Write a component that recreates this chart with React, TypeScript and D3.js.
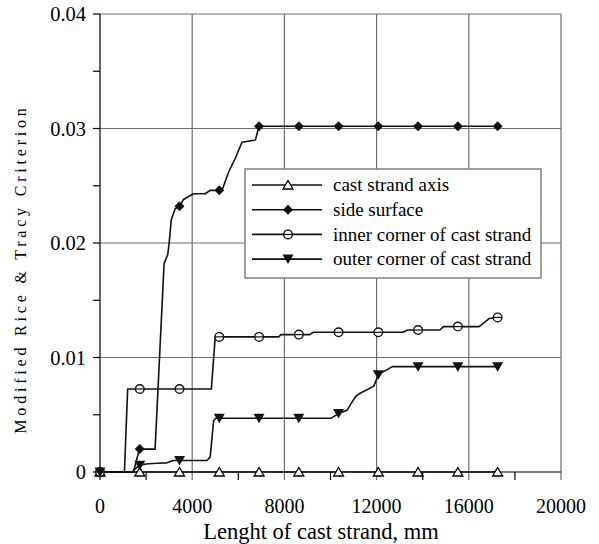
import React from "react";
import * as d3 from "d3";

// marker positions along the strand (mm)
const markerX = [0, 1725, 3450, 5175, 6900, 8625, 10350, 12075, 13800, 15525, 17250];

// marker values per series
const axisMarks = [0, 0, 0, 0, 0, 0, 0, 0, 0, 0, 0];
const sideMarks = [0, 0.002, 0.0232, 0.0246, 0.0302, 0.0302, 0.0302, 0.0302, 0.0302, 0.0302, 0.0302];
const innerMarks = [0, 0.00725, 0.00725, 0.0118, 0.0118, 0.012, 0.0122, 0.0122, 0.0124, 0.0127, 0.0135];
const outerMarks = [0, 0.0006, 0.001, 0.0047, 0.0047, 0.0047, 0.0051, 0.0085, 0.0092, 0.0092, 0.0092];

// line traces [x, value]
const axisLine: [number, number][] = [[0, 0], [17250, 0]];
const sideLine: [number, number][] = [
  [0, 0], [1450, 0], [1710, 0.002], [2390, 0.002], [2780, 0.0182], [2940, 0.019],
  [3000, 0.02], [3090, 0.022], [3260, 0.023], [3450, 0.0232], [3620, 0.0238],
  [4060, 0.0243], [4560, 0.0243], [4780, 0.0246], [5175, 0.0246], [5330, 0.0248],
  [5580, 0.0262], [5870, 0.0274], [6160, 0.0288], [6740, 0.029], [6900, 0.0302],
  [17250, 0.0302],
];
const innerLine: [number, number][] = [
  [0, 0], [1060, 0], [1200, 0.00725], [4830, 0.00725], [5000, 0.0118], [7750, 0.0118],
  [7850, 0.012], [9100, 0.012], [9250, 0.0122], [13150, 0.0122], [13350, 0.0124],
  [14750, 0.0124], [14900, 0.0127], [16450, 0.0127], [16880, 0.0134], [17250, 0.0135],
];
const outerLine: [number, number][] = [
  [0, 0], [1380, 0], [1710, 0.0006], [2000, 0.0007], [2460, 0.00076], [2900, 0.0008],
  [3190, 0.001], [4640, 0.001], [4780, 0.0013], [4930, 0.0045], [5030, 0.0047],
  [10030, 0.0047], [10350, 0.0051], [10720, 0.0054], [11090, 0.0066], [11300, 0.0069],
  [11600, 0.0072], [11880, 0.0075], [12075, 0.0085], [12680, 0.0092], [17250, 0.0092],
];

const legendLabels = [
  "cast strand axis",
  "side surface",
  "inner corner of cast strand",
  "outer corner of cast strand",
];

const xTicks = [0, 4000, 8000, 12000, 16000, 20000];
const xMinor = [2000, 6000, 10000, 14000, 18000];
const yTicks = [0, 0.01, 0.02, 0.03, 0.04];
const yMinor = [0.005, 0.015, 0.025, 0.035];

const FONT = "Liberation Serif, Times New Roman, DejaVu Serif, Noto Serif, serif";
const GRID = "#6e6e6e";
const txt = { fontFamily: FONT };

const Marker = ({ kind, x, y }: { kind: string; x: number; y: number }) => {
  if (kind === "tri")
    return (
      <path
        d={`M${x},${y - 4.5}L${x + 5},${y + 4}L${x - 5},${y + 4}Z`}
        fill="#fff"
        stroke="#000"
        strokeWidth={1.3}
      />
    );
  if (kind === "diamond")
    return <path d={`M${x},${y - 5}L${x + 5},${y}L${x},${y + 5}L${x - 5},${y}Z`} fill="#111" />;
  if (kind === "circle")
    return (
      <g>
        <circle cx={x} cy={y} r={4.3} fill="#fff" stroke="#111" strokeWidth={1.4} />
        <line x1={x - 4} x2={x + 4} y1={y} y2={y} stroke="#111" strokeWidth={1.2} />
      </g>
    );
  return <path d={`M${x - 5.5},${y - 4.5}L${x + 5.5},${y - 4.5}L${x},${y + 5}Z`} fill="#111" />;
};

export default function App() {
  const x = d3.scaleLinear().domain([0, 20000]).range([100, 561]);
  const y = d3.scaleLinear().domain([0, 0.04]).range([472, 14]);
  const line = d3
    .line<[number, number]>()
    .x(d => x(d[0]))
    .y(d => y(d[1]));

  const series = [
    { kind: "tri", line: axisLine, marks: axisMarks },
    { kind: "diamond", line: sideLine, marks: sideMarks },
    { kind: "circle", line: innerLine, marks: innerMarks },
    { kind: "down", line: outerLine, marks: outerMarks },
  ];

  return (
    <svg
      width={599}
      height={544}
      style={{ position: "absolute", left: 0, top: 0, background: "#fff" }}
    >
      <rect width={599} height={544} fill="#fff" />
      {/* grid */}
      {yTicks.slice(1).map(t => (
        <line key={"gy" + t} x1={x(0)} x2={x(20000)} y1={y(t)} y2={y(t)} stroke={GRID} strokeWidth={1.2} />
      ))}
      {xTicks.slice(1).map(t => (
        <line key={"gx" + t} x1={x(t)} x2={x(t)} y1={y(0.04)} y2={y(0) + 8} stroke={GRID} strokeWidth={1.2} />
      ))}
      {/* axes */}
      <line x1={x(0)} x2={x(0)} y1={y(0.04)} y2={y(0) + 8} stroke="#000" strokeWidth={1.2} />
      <line x1={x(0)} x2={x(20000)} y1={y(0)} y2={y(0)} stroke="#000" strokeWidth={1.2} />
      {yTicks.concat(yMinor).map(t => (
        <line key={"ty" + t} x1={x(0) - 7} x2={x(0)} y1={y(t)} y2={y(t)} stroke="#000" strokeWidth={1.2} />
      ))}
      {xMinor.map(t => (
        <line key={"tx" + t} x1={x(t)} x2={x(t)} y1={y(0)} y2={y(0) + 8} stroke="#000" strokeWidth={1.2} />
      ))}
      {yTicks.map(t => (
        <text key={"ly" + t} style={txt} x={x(0) - 14} y={y(t)} dy="0.35em" textAnchor="end" fontSize={20.5}>
          {t === 0 ? "0" : d3.format(".2f")(t)}
        </text>
      ))}
      {xTicks.map(t => (
        <text key={"lx" + t} style={txt} x={x(t)} y={513} textAnchor="middle" fontSize={20}>
          {t}
        </text>
      ))}
      <text style={txt} x={321} y={539} textAnchor="middle" fontSize={22.5}>
        Lenght of cast strand, mm
      </text>
      <text
        style={txt}
        transform="translate(26,269) rotate(-90)"
        textAnchor="middle"
        fontSize={16}
        letterSpacing={3.8}
      >
        Modified Rice &amp; Tracy Criterion
      </text>
      {/* series */}
      {series.map((s, i) => (
        <g key={"s" + i}>
          <path d={line(s.line) || ""} fill="none" stroke="#111" strokeWidth={1.6} strokeLinejoin="round" />
          {s.marks.map((v, j) => (
            <Marker key={j} kind={s.kind} x={x(markerX[j])} y={y(v)} />
          ))}
        </g>
      ))}
      {/* legend */}
      <rect x={245} y={169} width={296} height={109} fill="#fff" stroke="#808080" strokeWidth={1.5} />
      {legendLabels.map((l, i) => {
        const ry = 185 + i * 24.7;
        return (
          <g key={"lg" + i}>
            <line x1={252} x2={322} y1={ry} y2={ry} stroke="#111" strokeWidth={1.6} />
            <Marker kind={series[i].kind} x={288} y={ry} />
            <text style={txt} x={333} y={ry} dy="0.33em" fontSize={19}>
              {l}
            </text>
          </g>
        );
      })}
    </svg>
  );
}
